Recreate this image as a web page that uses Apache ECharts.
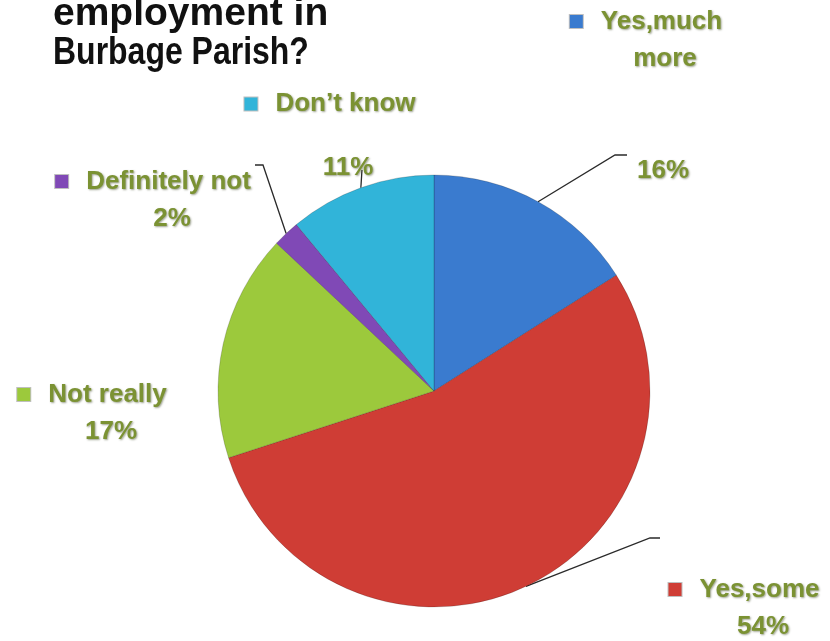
<!DOCTYPE html>
<html>
<head>
<meta charset="utf-8">
<script src="https://cdn.jsdelivr.net/npm/echarts@6/dist/echarts.min.js"></script>
<style>
  html, body { margin: 0; padding: 0; background: #ffffff; }
  #chart { width: 830px; height: 641px; }
</style>
</head>
<body>
<div id="chart"></div>
<script>
// Survey answers, in clockwise order from 12 o'clock
const categories = ['Yes, much more', 'Yes, some', 'Not really', 'Definitely not', 'Don’t know'];
const values = [16, 54, 17, 2, 11];
// Name text as it is set in the callouts (line breaks included)
const nameLines = [['Yes,much', 'more'], ['Yes,some'], ['Not really'], ['Definitely not'], ['Don’t know']];
const titleLines = ['employment in', 'Burbage Parish?'];

const sliceColors = ['#3a7bcf', '#cf3d35', '#9cc93c', '#8049b6', '#31b4d9'];
const textGreen = '#7b9233';
const FONT = '"Liberation Sans", Arial, sans-serif';

const pieCenter = [434, 391];
const pieRadius = 216;

// Callout placement: which labels carry the name, where each block sits, and where leader lines bend
const pctSpots = [
  { x: 663, y: 171, withName: false, tail: [[615, 155], [627, 155]] },
  { x: 744, y: 608, withName: true,  tail: [[650, 538], [660, 538]] },
  { x: 92,  y: 413, withName: true,  tail: null },
  { x: 153, y: 200, withName: true,  tail: [[263, 165], [255, 165]] },
  { x: 348, y: 168, withName: false, tail: [[362, 170]] }
];
const nameSpots = [
  { x: 646, y: 40 },
  null,
  null,
  null,
  { x: 330, y: 104 }
];

const total = values.reduce((a, b) => a + b, 0);

// Point on the rim at the middle of slice i
function rimPoint(i) {
  let before = 0;
  for (let k = 0; k < i; k++) before += values[k];
  const mid = (90 - (before + values[i] / 2) / total * 360) * Math.PI / 180;
  return [pieCenter[0] + pieRadius * Math.cos(mid), pieCenter[1] - pieRadius * Math.sin(mid)];
}

const textBase = {
  fontFamily: FONT,
  fontWeight: 'bold',
  fontSize: 26,
  lineHeight: 37,
  color: textGreen,
  textShadowColor: 'rgba(40,50,10,0.45)',
  textShadowBlur: 2,
  textShadowOffsetX: 1,
  textShadowOffsetY: 1
};

function richFor(i) {
  const r = {
    t: Object.assign({}, textBase),
    gap: { width: 18, height: 13 },
    sp: { width: 38, height: 13 }
  };
  r['sq' + i] = {
    width: 13, height: 13,
    backgroundColor: sliceColors[i],
    borderColor: 'rgba(0,0,0,0.25)',
    borderWidth: 1
  };
  return r;
}

function nameBlock(i) {
  const lines = nameLines[i];
  let s = '{sq' + i + '|}{gap|}{t|' + lines[0] + '}';
  for (let k = 1; k < lines.length; k++) s += '\n{sp|}{t|' + lines[k] + '}';
  return s;
}

const pctData = categories.map((name, i) => {
  const spot = pctSpots[i];
  const text = spot.withName
    ? nameBlock(i) + '\n{sp|}{t|' + values[i] + '%}'
    : '{t|' + values[i] + '%}';
  return {
    name: name,
    value: values[i],
    itemStyle: { color: sliceColors[i] },
    label: { formatter: text, rich: richFor(i) },
    labelLine: { show: !!spot.tail }
  };
});

const nameData = categories.map((name, i) => ({
  name: name,
  value: values[i],
  label: nameSpots[i]
    ? { show: true, formatter: nameBlock(i), rich: richFor(i) }
    : { show: false }
}));

const chart = echarts.init(document.getElementById('chart'), null, { renderer: 'canvas' });

chart.setOption({
  animation: false,
  backgroundColor: '#ffffff',
  graphic: [
    {
      type: 'text', x: 53, y: 34,
      style: { text: titleLines[0], font: 'bold 39px ' + FONT, fill: '#111111', verticalAlign: 'bottom' }
    },
    {
      type: 'text', x: 53, y: 73, scaleX: 0.82,
      style: { text: titleLines[1], font: 'bold 39px ' + FONT, fill: '#111111', verticalAlign: 'bottom' }
    }
  ],
  series: [
    {
      // name-only callouts for the two slices whose names stand apart from their percentages
      type: 'pie',
      silent: true,
      center: pieCenter,
      radius: pieRadius,
      startAngle: 90,
      clockwise: true,
      avoidLabelOverlap: false,
      itemStyle: { color: 'rgba(0,0,0,0)' },
      label: { position: 'outside' },
      labelLine: { show: false },
      labelLayout: function (p) {
        const s = nameSpots[p.dataIndex];
        if (!s) return {};
        return { x: s.x, y: s.y, align: 'center', verticalAlign: 'middle' };
      },
      data: nameData,
      z: 1
    },
    {
      type: 'pie',
      center: pieCenter,
      radius: pieRadius,
      startAngle: 90,
      clockwise: true,
      avoidLabelOverlap: false,
      itemStyle: { borderColor: 'rgba(0,0,0,0.18)', borderWidth: 1 },
      label: { show: true, position: 'outside' },
      labelLine: { show: true, lineStyle: { color: '#2a2a2a', width: 1.3 } },
      emphasis: { disabled: true },
      labelLayout: function (p) {
        const s = pctSpots[p.dataIndex];
        const out = { x: s.x, y: s.y, align: 'center', verticalAlign: 'middle' };
        if (s.tail) out.labelLinePoints = [rimPoint(p.dataIndex)].concat(s.tail);
        return out;
      },
      data: pctData,
      z: 2
    }
  ]
});
</script>
</body>
</html>
